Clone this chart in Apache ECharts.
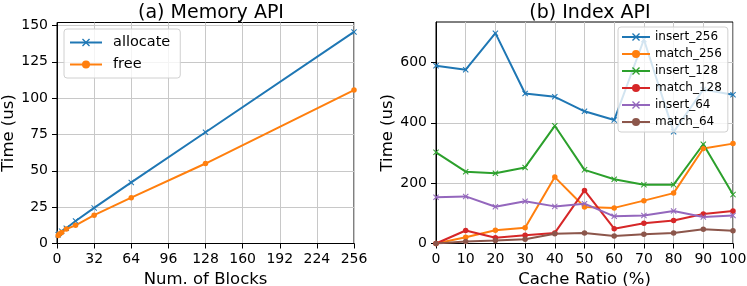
<!DOCTYPE html>
<html>
<head>
<meta charset="utf-8">
<script src="https://cdn.jsdelivr.net/npm/echarts@6/dist/echarts.min.js"></script>
<style>html,body{margin:0;padding:0;background:#fff}#c{width:747px;height:286px}</style>
</head>
<body>
<div id="c"></div>
<script>
// ---- Data ----
const blocks = [1, 2, 4, 8, 16, 32, 64, 128, 256];
const allocate = [6, 7, 8.5, 10.5, 15.5, 24.5, 42, 76.5, 145.5];
const free = [5.5, 6.5, 7.5, 10, 12.5, 19.5, 31.5, 55, 105.5];

const ratios = [0, 10, 20, 30, 40, 50, 60, 70, 80, 90, 100];
const insert_256 = [589, 576, 697, 497, 486, 438, 409, 676, 370, 510, 493];
const match_256 = [0, 21, 44, 52, 220, 121, 118, 142, 167, 315, 331];
const insert_128 = [302, 238, 233, 252, 390, 244, 213, 195, 195, 329, 162];
const match_128 = [0, 43, 19, 27, 35, 176, 49, 67, 76, 98, 108];
const insert_64 = [153, 156, 122, 140, 123, 132, 90, 93, 108, 88, 93];
const match_64 = [0, 7, 10, 14, 32, 35, 25, 31, 35, 47, 42];

const leftXTicks = [0, 32, 64, 96, 128, 160, 192, 224, 256];
const leftYTicks = [0, 25, 50, 75, 100, 125, 150];
const rightXTicks = [0, 10, 20, 30, 40, 50, 60, 70, 80, 90, 100];
const rightYTicks = [0, 200, 400, 600];

const titles = ['(a) Memory API', '(b) Index API'];
const xNames = ['Num. of Blocks', 'Cache Ratio (%)'];
const yName = 'Time (us)';

// ---- Styles ----
const FONT = 'DejaVu Sans';
const C = ['#1f77b4', '#ff7f0e', '#2ca02c', '#d62728', '#9467bd', '#8c564b'];
const XSYM = 'path://M0,1.2L1.2,0L5,3.8L8.8,0L10,1.2L6.2,5L10,8.8L8.8,10L5,6.2L1.2,10L0,8.8L3.8,5Z';

function zip(xs, ys) { return xs.map((x, i) => [x, ys[i]]); }

function xAxisCfg(grid, max, interval, ticks, name) {
  return {
    type: 'value', gridIndex: grid, min: 0, max: max, interval: interval,
    name: name, nameLocation: 'middle', nameGap: 28,
    nameTextStyle: { fontFamily: FONT, fontSize: 16.5, color: '#000' },
    axisLine: { show: true, onZero: false, lineStyle: { color: '#000', width: 1 } },
    axisTick: { show: true, length: 5, lineStyle: { color: '#000' } },
    axisLabel: { fontFamily: FONT, fontSize: 14, color: '#000', margin: 9, customValues: ticks },
    splitLine: { show: true, lineStyle: { color: '#c8c8c8', width: 1 } }
  };
}
function yAxisCfg(grid, max, interval, ticks) {
  return {
    type: 'value', gridIndex: grid, min: 0, max: max, interval: interval,
    name: yName, nameLocation: 'middle', nameGap: 39,
    nameTextStyle: { fontFamily: FONT, fontSize: 16.5, color: '#000' },
    axisLine: { show: true, onZero: false, lineStyle: { color: '#000', width: 1 } },
    axisTick: { show: true, length: 5, lineStyle: { color: '#000' }, customValues: ticks },
    axisLabel: { fontFamily: FONT, fontSize: 14, color: '#000', margin: 9, customValues: ticks },
    splitLine: { show: true, lineStyle: { color: '#c8c8c8', width: 1 } }
  };
}
function line(name, xi, data, color, sym) {
  return {
    name: name, type: 'line', xAxisIndex: xi, yAxisIndex: xi, data: data,
    symbol: sym === 'x' ? XSYM : 'circle', symbolSize: sym === 'x' ? 6 : 5.5,
    showSymbol: true, showAllSymbol: true,
    lineStyle: { color: color, width: 2 },
    itemStyle: { color: color },
    emphasis: { disabled: true }, animation: false
  };
}

const chart = echarts.init(document.getElementById('c'), null, { renderer: 'canvas' });
chart.setOption({
  backgroundColor: '#fff',
  animation: false,
  textStyle: { fontFamily: FONT },
  title: [
    { text: titles[0], left: 206, top: -1, textAlign: 'center', textStyle: { fontFamily: FONT, fontSize: 19, fontWeight: 'normal', color: '#000' } },
    { text: titles[1], left: 585, top: -1, textAlign: 'center', textStyle: { fontFamily: FONT, fontSize: 19, fontWeight: 'normal', color: '#000' } }
  ],
  grid: [
    { left: 57, right: 393, top: 22.5, bottom: 42.5, outerBoundsMode: 'none', containLabel: false, show: true, borderColor: '#000', borderWidth: 1, backgroundColor: 'transparent' },
    { left: 436, right: 14, top: 22, bottom: 42.5, outerBoundsMode: 'none', containLabel: false, show: true, borderColor: '#000', borderWidth: 1, backgroundColor: 'transparent' }
  ],
  xAxis: [
    xAxisCfg(0, 256, 32, leftXTicks, xNames[0]),
    xAxisCfg(1, 100, 10, rightXTicks, xNames[1])
  ],
  yAxis: [
    yAxisCfg(0, 152, 25, leftYTicks),
    yAxisCfg(1, 734, 200, rightYTicks)
  ],
  legend: [
    {
      data: ['allocate', 'free'], orient: 'vertical', left: 64, top: 29,
      itemWidth: 32, itemHeight: 10, itemGap: 7, padding: [6, 10, 6, 5],
      backgroundColor: 'rgba(255,255,255,0.8)', borderColor: '#d0d0d0', borderWidth: 1, borderRadius: 3,
      textStyle: { fontFamily: FONT, fontSize: 14.5, color: '#000', padding: [0, 0, 0, 6] }
    },
    {
      data: ['insert_256', 'match_256', 'insert_128', 'match_128', 'insert_64', 'match_64'],
      orient: 'vertical', left: 618, top: 27,
      itemWidth: 28, itemHeight: 10, itemGap: 5, padding: [4, 6, 4, 3],
      backgroundColor: 'rgba(255,255,255,0.8)', borderColor: '#d0d0d0', borderWidth: 1, borderRadius: 3,
      textStyle: { fontFamily: FONT, fontSize: 12, color: '#000' }
    }
  ],
  series: [
    line('allocate', 0, zip(blocks, allocate), C[0], 'x'),
    line('free', 0, zip(blocks, free), C[1], 'o'),
    line('insert_256', 1, zip(ratios, insert_256), C[0], 'x'),
    line('match_256', 1, zip(ratios, match_256), C[1], 'o'),
    line('insert_128', 1, zip(ratios, insert_128), C[2], 'x'),
    line('match_128', 1, zip(ratios, match_128), C[3], 'o'),
    line('insert_64', 1, zip(ratios, insert_64), C[4], 'x'),
    line('match_64', 1, zip(ratios, match_64), C[5], 'o')
  ]
});
</script>
</body>
</html>
